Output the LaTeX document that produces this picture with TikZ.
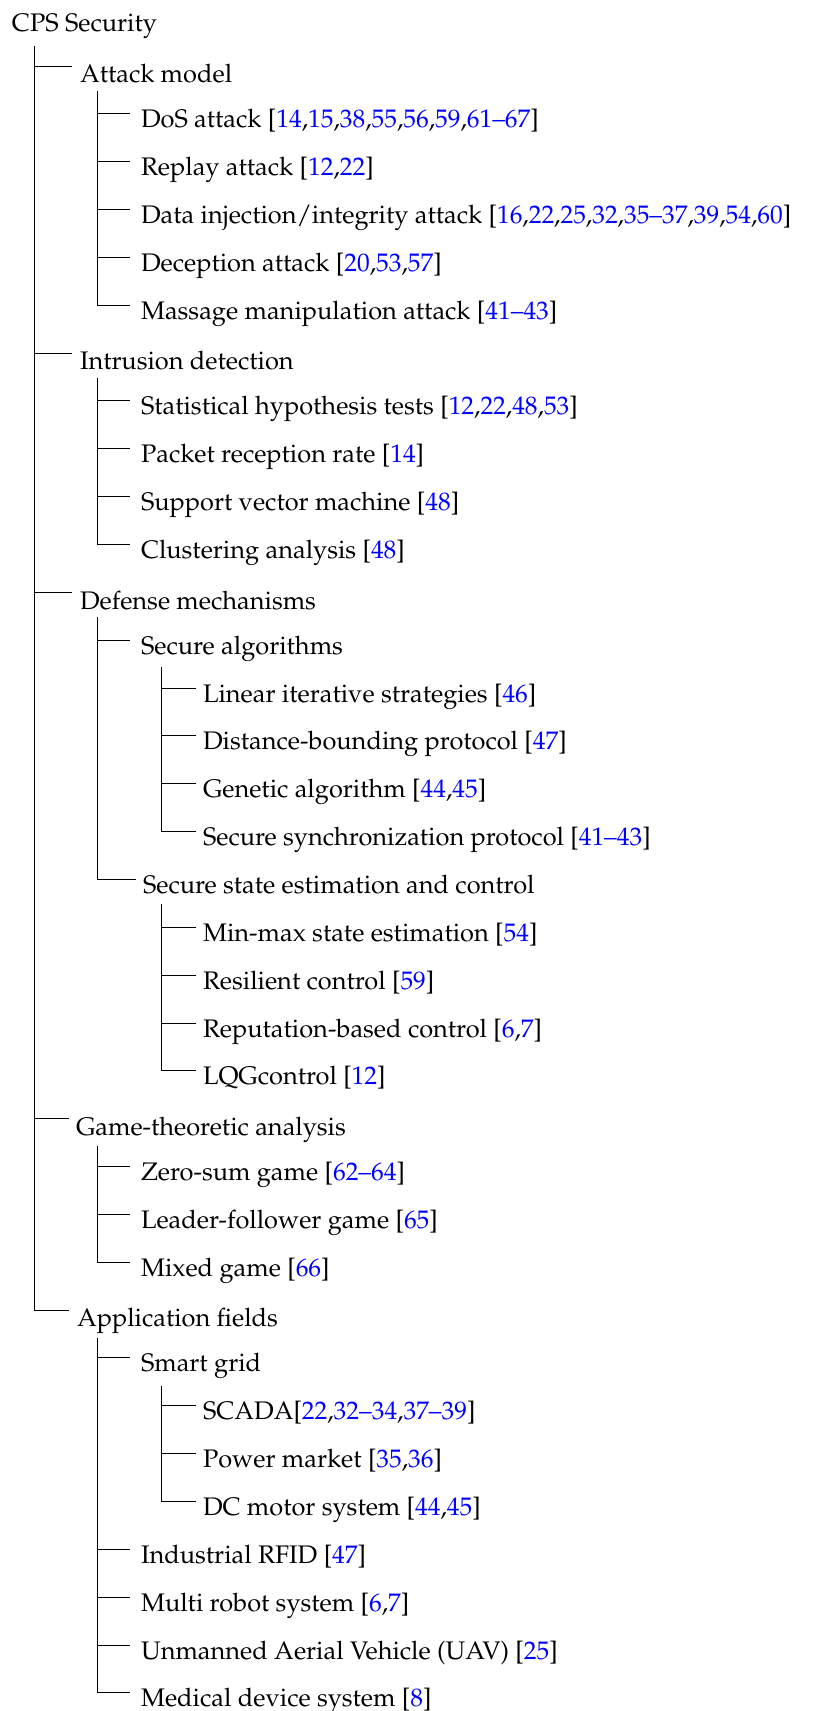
\documentclass[tikz,border=0pt]{standalone}
\usepackage[T1]{fontenc}
\usepackage{mathpazo}
\newcommand\rf[1]{\textcolor{blue}{#1}}
\newcommand\Ly[1]{-(66+47.85*#1)}
\newcommand\Item[7]{%
  \node[tn] (#1) at (#5,{\Ly{#3}-#6}) {#7};
  \coordinate (#1-l) at (#4,{\Ly{#3}});
  \draw[br] (#2) |- (#1-l);}
\begin{document}
\begin{tikzpicture}[x=1pt,y=1pt,
  tn/.style={anchor=base west, inner sep=0pt, outer sep=0pt, font=\fontsize{25.4}{30}\selectfont},
  br/.style={line width=1pt, black}]
\useasboundingbox (0,0) rectangle (823,-1711);
\node[tn] (root) at (12,-31.7) {CPS Security};
\coordinate (v0) at (34,-46);
% level 1
\Item{am}{v0}{0}{72}{80}{16.7}{Attack model}
\coordinate (am-v) at (97,{\Ly{0}-25});
\Item{dos}{am-v}{1}{130}{141}{14}{DoS attack [\rf{14},\rf{15},\rf{38},\rf{55},\rf{56},\rf{59},\rf{61--67}]}
\Item{rep}{am-v}{2}{130}{141}{14}{Replay attack [\rf{12},\rf{22}]}
\Item{dat}{am-v}{3}{130}{141}{14}{Data injection/integrity attack [\rf{16},\rf{22},\rf{25},\rf{32},\rf{35--37},\rf{39},\rf{54},\rf{60}]}
\Item{dec}{am-v}{4}{130}{141}{14}{Deception attack [\rf{20},\rf{53},\rf{57}]}
\Item{mas}{am-v}{5}{130}{141}{14}{Massage manipulation attack [\rf{41--43}]}
\Item{id}{v0}{6}{72}{80}{16.7}{Intrusion detection}
\coordinate (id-v) at (97,{\Ly{6}-25});
\Item{sht}{id-v}{7}{130}{141}{14}{Statistical hypothesis tests [\rf{12},\rf{22},\rf{48},\rf{53}]}
\Item{prr}{id-v}{8}{130}{141}{14}{Packet reception rate [\rf{14}]}
\Item{svm}{id-v}{9}{130}{141}{14}{Support vector machine [\rf{48}]}
\Item{clu}{id-v}{10}{130}{141}{14}{Clustering analysis [\rf{48}]}
\Item{dm}{v0}{11}{72}{80}{16.7}{Defense mechanisms}
\coordinate (dm-v) at (97,{\Ly{11}-25});
\Item{sa}{dm-v}{12}{130}{141}{14}{Secure algorithms}
\coordinate (sa-v) at (161,{\Ly{12}-27});
\Item{lin}{sa-v}{13}{196}{203}{14}{Linear iterative strategies [\rf{46}]}
\Item{dbp}{sa-v}{14}{196}{203}{14}{Distance-bounding protocol [\rf{47}]}
\Item{gen}{sa-v}{15}{196}{203}{14}{Genetic algorithm [\rf{44},\rf{45}]}
\Item{ssp}{sa-v}{16}{196}{203}{14}{Secure synchronization protocol [\rf{41--43}]}
\Item{sse}{dm-v}{17}{136}{143}{14}{Secure state estimation and control}
\coordinate (sse-v) at (161,{\Ly{17}-25});
\Item{mm}{sse-v}{18}{196}{203}{14}{Min-max state estimation [\rf{54}]}
\Item{rc}{sse-v}{19}{196}{203}{14}{Resilient control [\rf{59}]}
\Item{rbc}{sse-v}{20}{196}{203}{14}{Reputation-based control [\rf{6},\rf{7}]}
\Item{lqg}{sse-v}{21}{196}{203}{14}{LQGcontrol [\rf{12}]}
\Item{gt}{v0}{22}{69}{76}{16.7}{Game-theoretic analysis}
\coordinate (gt-v) at (97,{\Ly{22}-27});
\Item{zs}{gt-v}{23}{130}{141}{14}{Zero-sum game [\rf{62--64}]}
\Item{lf}{gt-v}{24}{130}{141}{14}{Leader-follower game [\rf{65}]}
\Item{mg}{gt-v}{25}{130}{141}{14}{Mixed game [\rf{66}]}
\Item{af}{v0}{26}{69}{77}{16.7}{Application fields}
\coordinate (af-v) at (97,{\Ly{26}-28});
\Item{sg}{af-v}{27}{130}{141}{14}{Smart grid}
\coordinate (sg-v) at (161,{\Ly{27}-28});
\Item{sc}{sg-v}{28}{196}{203}{14}{SCADA[\rf{22},\rf{32--34},\rf{37--39}]}
\Item{pm}{sg-v}{29}{196}{203}{14}{Power market [\rf{35},\rf{36}]}
\Item{dc}{sg-v}{30}{196}{203}{14}{DC motor system [\rf{44},\rf{45}]}
\Item{rf}{af-v}{31}{130}{141}{14}{Industrial RFID [\rf{47}]}
\Item{mr}{af-v}{32}{130}{141}{14}{Multi robot system [\rf{6},\rf{7}]}
\Item{uav}{af-v}{33}{130}{141}{14}{Unmanned Aerial Vehicle (UAV) [\rf{25}]}
\Item{med}{af-v}{34}{130}{141}{14}{Medical device system [\rf{8}]}
\end{tikzpicture}
\end{document}
